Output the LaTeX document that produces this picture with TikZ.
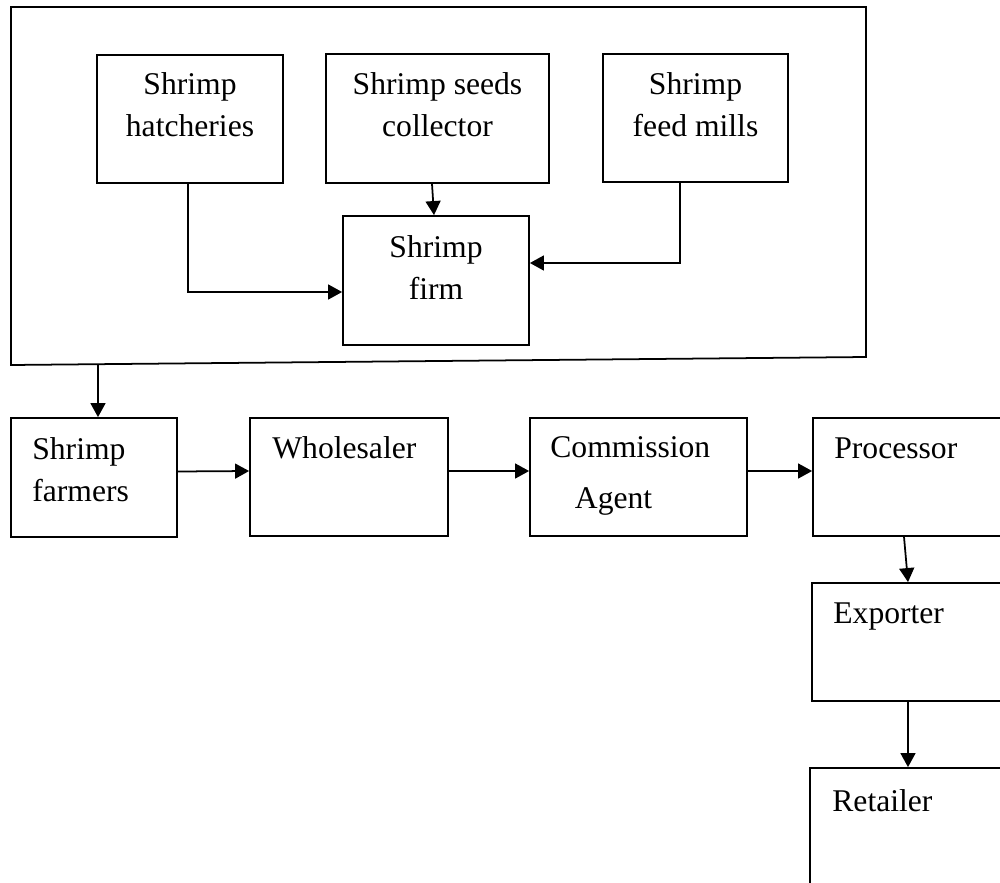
\documentclass[tikz,border=0pt]{standalone}
\usepackage{fontspec}
\setmainfont{Liberation Serif}
\usetikzlibrary{arrows.meta,fit}

\tikzset{
	box/.style={draw, line width=1pt, inner sep=0pt},
	txt/.style={align=center, inner sep=0pt, anchor=north, font=\fontsize{18}{23.8}\selectfont},
	ltxt/.style={align=left, inner sep=0pt, anchor=north west, font=\fontsize{18}{23.8}\selectfont},
	arr/.style={line width=1pt, -{Triangle[length=8pt,width=8.5pt]}}
}

\begin{document}
\begin{tikzpicture}[x=0.02cm, y=-0.02cm]
	\useasboundingbox (0,0) rectangle (1000,882);
	% frame round the inputs
	\draw[line width=1pt] (11,7) -- (866,7) -- (866,357) -- (11,365) -- cycle;
	\coordinate (framebot) at (98,364.1);
	% boxes
	\foreach \n/\x/\y/\X/\Y in {hatch/97/55/283/183, seeds/326/54/549/183, feed/603/54/788/182,
			firm/343/216/529/345, farmers/11/418/177/537, whole/250/418/448/536,
			comm/530/418/747/536, proc/813/418/1004/536, expo/812/583/1004/701, retail/810/768/1006/900}{%
		\node[box, fit={(\x,\y) (\X,\Y)}] (\n) {};
	}
	% texts
	\node[txt] (hatchtxt) at (190,72.5) {Shrimp\\hatcheries};
	\node[txt] (seedstxt) at (437.5,72.5) {Shrimp seeds\\collector};
	\node[txt] (feedtxt) at (695.5,72) {Shrimp\\feed mills};
	\node[txt] (firmtxt) at (436,235) {Shrimp\\firm};
	\node[ltxt] (farmerstxt) at (32,437) {Shrimp\\farmers};
	\node[ltxt] (wholetxt) at (272,436) {Wholesaler};
	\node[ltxt] (commtxt) at (550,436) {Commission\\[5.5pt]\hspace*{14pt}Agent};
	\node[ltxt] (proctxt) at (834,437) {Processor};
	\node[ltxt] (expotxt) at (833,602) {Exporter};
	\node[ltxt] (retailtxt) at (832,789) {Retailer};
	% arrows
	\draw[arr] ([xshift=-0.04cm]hatch.south) |- ([yshift=-0.23cm]firm.west);
	\draw[arr] ([xshift=-0.11cm]seeds.south) -- ([xshift=-0.04cm]firm.north);
	\draw[arr] ([xshift=-0.31cm]feed.south) |- ([yshift=0.35cm]firm.east);
	\draw[arr] (framebot) -- (framebot |- farmers.north);
	\foreach \a/\b in {farmers/whole, whole/comm, comm/proc}{%
		\draw[arr] ([yshift=0.12cm]\a.east) -- ([yshift=0.12cm]\b.west);
	}
	\draw[arr] ([xshift=-0.09cm]proc.south) -- (expo.north);
	\draw[arr] (expo.south) -- (expo.south |- retail.north);
\end{tikzpicture}
\end{document}
